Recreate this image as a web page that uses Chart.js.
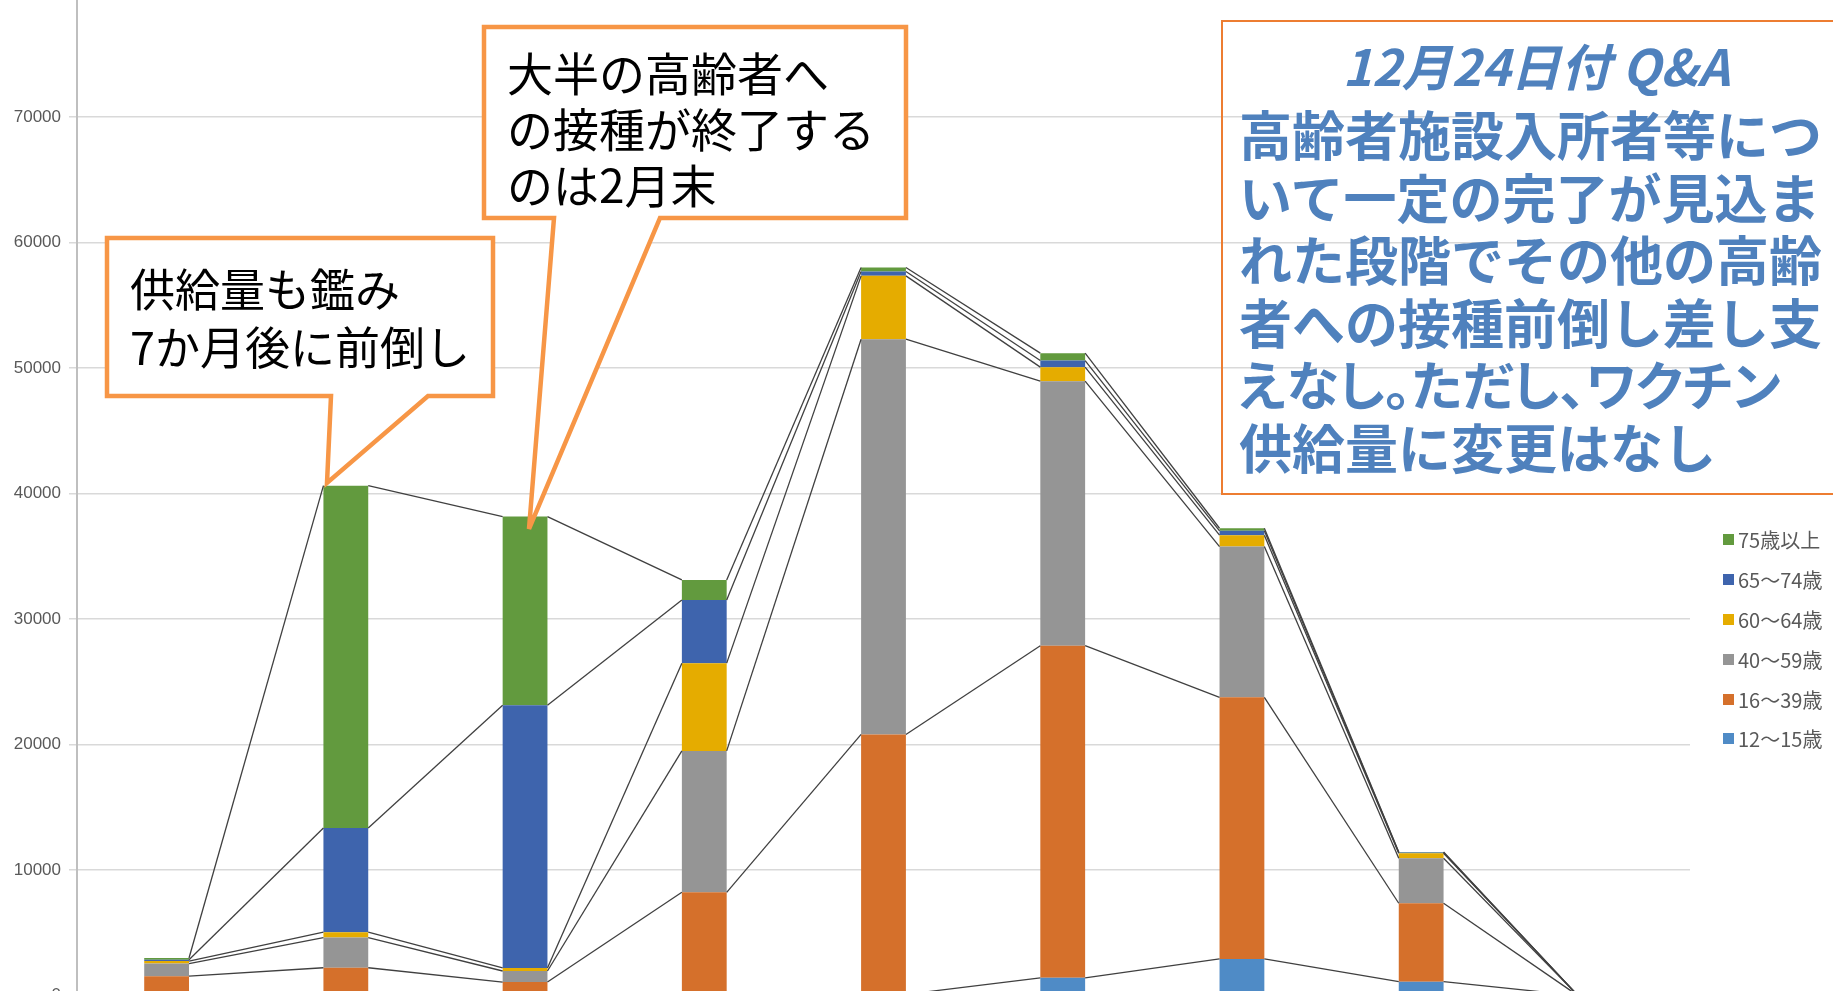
<!DOCTYPE html>
<html lang="ja">
<head>
<meta charset="utf-8">
<script src="https://cdn.jsdelivr.net/npm/chart.js@4.4.0/dist/chart.umd.min.js"></script>
<style>
  html, body { margin: 0; padding: 0; background: #fff; overflow: hidden; }
  body { width: 1833px; height: 991px; position: relative; font-family: "Noto Sans CJK JP", "Noto Sans", sans-serif; }
  #wrap { position: absolute; left: 0; top: -30px; width: 1833px; height: 1050px; }
  #shapes { position: absolute; left: 0; top: 0; z-index: 2; }
  .txt { position: absolute; z-index: 3; white-space: pre; }
  .palt { font-feature-settings: "palt" 1; }
  #legend { position: absolute; left: 1723px; top: 0; z-index: 3; }
  .lg { position: absolute; left: 0; height: 24px; display: flex; align-items: center; white-space: nowrap;
        font-family: "Noto Sans CJK JP", sans-serif; font-size: 20px; color: #595959; }
  .lg i { display: inline-block; width: 11px; height: 11px; margin-right: 4px; }
</style>
</head>
<body>
<div id="wrap"><canvas id="chart"></canvas></div>

<svg id="shapes" width="1833" height="991">
  <path d="M107,238 H493 V396 H428 L327,483 L331,396 H107 Z" fill="#fff" stroke="#F79646" stroke-width="4.5" stroke-linejoin="miter"/>
  <path d="M484,27 H906 V218 H660 L529,529 L554,218 H484 Z" fill="#fff" stroke="#F79646" stroke-width="4.5" stroke-linejoin="miter"/>
  <rect x="1222" y="21" width="628" height="473" fill="none" stroke="#ED7D31" stroke-width="2"/>
</svg>

<div class="txt" style="left:130px; top:259px; font-size:45px; line-height:58px; color:#000;">供給量も鑑み
7か月後に前倒し</div>
<div class="txt" style="left:507px; top:43px; font-size:46px; line-height:56px; color:#000;">大半の高齢者へ
の接種が終了する
のは2月末</div>
<div class="txt" style="left:1222px; width:628px; top:35px; text-align:center; font-size:50px; line-height:58px; font-weight:bold; font-style:italic; color:#4F81BD;">12月24日付 Q&amp;A</div>
<div class="txt" style="left:1239px; top:102px; font-size:53px; line-height:62.5px; font-weight:bold; color:#4F81BD;">高齢者施設入所者等につ
いて一定の完了が見込ま
れた段階でその他の高齢
者への接種前倒し差し支
<span class="palt">えなし。ただし、ワクチン</span>
供給量に変更はなし</div>

<div id="legend"></div>

<script>
// categories (x labels are below the visible area)
const categories = ['12月', '1月', '2月', '3月', '4月', '5月', '6月', '7月', '8月'];

// series, bottom to top of each stack
const seriesNames = ['12～15歳', '16～39歳', '40～59歳', '60～64歳', '65～74歳', '75歳以上'];
const seriesColors = ['#4F8BC6', '#D5702B', '#959595', '#E5AC00', '#3E64AD', '#629A3E'];

const age12to15 = [0, 0, 0, 0, 100, 1420, 2920, 1110, 0];
const age16to39 = [1550, 2220, 1080, 8230, 20710, 26460, 20850, 6250, 0];
const age40to59 = [1000, 2400, 880, 11270, 31490, 21080, 12010, 3580, 0];
const age60to64 = [200, 430, 240, 6990, 5050, 1115, 910, 400, 0];
const age65to74 = [100, 8310, 20940, 5040, 350, 525, 340, 60, 0];
const age75plus = [150, 27270, 15030, 1590, 310, 590, 210, 40, 0];

const seriesValues = [age12to15, age16to39, age40to59, age60to64, age65to74, age75plus];

// y axis ticks
const yMax = 80000;
const yStep = 10000;

const datasets = seriesNames.map((name, i) => ({
    label: name,
    data: seriesValues[i],
    backgroundColor: seriesColors[i],
    borderWidth: 0,
    barPercentage: 0.25,
    categoryPercentage: 1.0
}));

// excel style series lines: join the top of each segment to the next bar
const seriesLines = {
    id: 'seriesLines',
    afterDatasetsDraw(chart) {
        const ctx = chart.ctx;
        ctx.save();
        ctx.strokeStyle = '#404040';
        ctx.lineWidth = 1.3;
        chart.data.datasets.forEach((ds, di) => {
            const meta = chart.getDatasetMeta(di);
            for (let i = 0; i < meta.data.length - 1; i++) {
                const a = meta.data[i];
                const b = meta.data[i + 1];
                ctx.beginPath();
                ctx.moveTo(a.x + a.width / 2, a.y);
                ctx.lineTo(b.x - b.width / 2, b.y);
                ctx.stroke();
            }
        });
        ctx.restore();
    }
};

const ctx = document.getElementById('chart').getContext('2d');
const chart = new Chart(ctx, {
    type: 'bar',
    data: { labels: categories, datasets: datasets },
    plugins: [seriesLines],
    options: {
        responsive: true,
        maintainAspectRatio: false,
        animation: false,
        layout: { padding: { top: 21.6, bottom: 24.4, left: 0, right: 143 } },
        plugins: { legend: { display: false }, tooltip: { enabled: false } },
        scales: {
            x: { stacked: true, display: false },
            y: {
                stacked: true,
                min: 0,
                max: yMax,
                afterFit(scale) { scale.width = 77; },
                ticks: {
                    stepSize: yStep,
                    padding: 8,
                    color: '#595959',
                    font: { family: 'Liberation Sans', size: 17 },
                    callback: (v) => String(v)
                },
                grid: { color: '#D9D9D9', lineWidth: 1.5, tickLength: 8, tickColor: '#D9D9D9' },
                border: { color: '#BFBFBF', width: 2 }
            }
        }
    }
});

// legend, top item is the top of the stack
const legend = document.getElementById('legend');
const legendCenters = [539, 579, 619, 659, 699, 738];
seriesNames.slice().reverse().forEach((name, k) => {
    const idx = seriesNames.length - 1 - k;
    const row = document.createElement('div');
    row.className = 'lg';
    row.style.top = (legendCenters[k] - 12) + 'px';
    row.innerHTML = '<i style="background:' + seriesColors[idx] + '"></i>' + name;
    legend.appendChild(row);
});
</script>
</body>
</html>
